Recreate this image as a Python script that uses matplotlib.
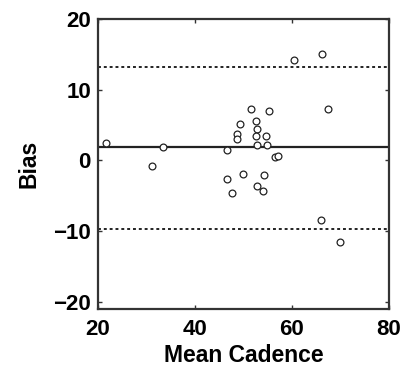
import matplotlib
matplotlib.use("Agg")
import matplotlib.pyplot as plt

plt.rcParams['font.family'] = ['Liberation Sans', 'DejaVu Sans']
plt.rcParams['font.weight'] = 'bold'

# Bland-Altman data
mean_cadence = [21.6, 31.1, 33.4, 46.7, 46.6, 47.7, 48.7, 48.7, 49.4, 49.9,
                51.6, 52.5, 52.9, 52.7, 52.9, 52.9, 54.1, 54.3, 54.7, 54.9,
                55.3, 56.5, 57.1, 60.4, 66.2, 67.5, 65.9, 69.9]
bias = [2.5, -0.8, 1.9, 1.5, -2.6, -4.6, 3.65, 3.0, 5.2, -1.9,
        7.3, 5.6, 4.4, 3.4, 2.2, -3.6, -4.3, -2.1, 3.4, 2.1,
        7.0, 0.45, 0.55, 14.2, 15.0, 7.3, -8.5, -11.6]
mean_bias = 1.95
upper_loa = 13.2
lower_loa = -9.7

x_ticks = [20, 40, 60, 80]
y_ticks = [-20, -10, 0, 10, 20]

fig = plt.figure(figsize=(4.06, 3.69), dpi=100)
ax = fig.add_axes([0.241, 0.163, 0.717, 0.786])

ax.scatter(mean_cadence, bias, s=24, facecolors='white', edgecolors='#222222',
           linewidths=0.9, zorder=3)
ax.axhline(mean_bias, color='#222222', lw=1.6, zorder=2)
ax.axhline(upper_loa, color='#222222', lw=1.4, ls=(0, (1.5, 1.5)), zorder=2)
ax.axhline(lower_loa, color='#222222', lw=1.4, ls=(0, (1.5, 1.5)), zorder=2)

ax.set_xlim(20, 80)
ax.set_ylim(-21, 20)
ax.set_xticks(x_ticks)
ax.set_yticks(y_ticks)
ax.set_yticklabels(['\u221220', '\u221210', '0', '10', '20'])
ax.tick_params(direction='in', length=3, width=1, top=True, right=True,
               labelsize=16, color='#333333')
ax.tick_params(axis='x', pad=7)
ax.tick_params(axis='y', pad=5)
for s in ax.spines.values():
    s.set_linewidth(1.6)
    s.set_color('#333333')

ax.set_xlabel('Mean Cadence', fontsize=16.5, fontweight='bold', labelpad=3)
ax.set_ylabel('Bias', fontsize=16.5, fontweight='bold', labelpad=9)

fig.savefig('out.png', dpi=100)
